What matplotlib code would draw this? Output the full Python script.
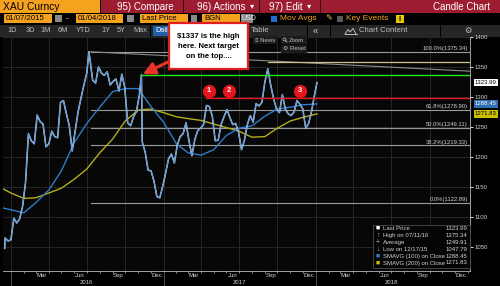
import matplotlib
matplotlib.use('Agg')
import matplotlib.pyplot as plt
import matplotlib.dates as mdates
import matplotlib.transforms as mtrans
from matplotlib.patches import Rectangle, Circle
import pandas as pd

plt.rcParams['font.family'] = ['Liberation Sans', 'DejaVu Sans']

# ---- data ----
week_start = '2015-12-18'          # weekly closes, Fridays
weekly_close = [
    1065, 1060, 1062, 1098, 1090, 1097, 1118, 1157, 1239, 1227,
    1222, 1270, 1259, 1255, 1217, 1222, 1243, 1234, 1232, 1291,
    1294, 1272, 1252, 1210, 1243, 1275, 1298, 1320, 1340, 1366,
    1328, 1323, 1350, 1340, 1336, 1342, 1320, 1326, 1330, 1310,
    1338, 1316, 1257, 1252, 1267, 1276, 1303, 1225, 1208, 1178,
    1177, 1160, 1134, 1132, 1151, 1173, 1197, 1205, 1190, 1220,
    1234, 1239, 1257, 1227, 1202, 1229, 1244, 1248, 1254, 1286,
    1284, 1268, 1227, 1228, 1254, 1267, 1279, 1266, 1254, 1256,
    1241, 1212, 1228, 1254, 1269, 1258, 1289, 1285, 1291, 1325,
    1347, 1320, 1297, 1280, 1274, 1304, 1280, 1272, 1269, 1275,
    1294, 1288, 1280, 1248, 1256, 1276, 1303,
]
extra_dates = ['2015-12-17', '2016-07-06', '2016-11-09', '2018-01-04']
extra_prices = [1047.79, 1375.34, 1337.0, 1323.99]

ma_dates = ['2015-12-13', '2016-01-01', '2016-02-01', '2016-03-01', '2016-04-01',
            '2016-05-01', '2016-06-01', '2016-07-01', '2016-08-01', '2016-09-01',
            '2016-10-01', '2016-11-01', '2016-12-01', '2017-01-01', '2017-02-01',
            '2017-03-01', '2017-04-01', '2017-05-01', '2017-06-01', '2017-07-01',
            '2017-08-01', '2017-09-01', '2017-10-01', '2017-11-01', '2017-12-01',
            '2018-01-04']
sma100 = [1115, 1112, 1107, 1124, 1145, 1177, 1224, 1256, 1283, 1309, 1314, 1314,
          1285, 1258, 1222, 1207, 1203, 1212, 1236, 1248, 1252, 1268, 1280, 1283,
          1287, 1288.45]
sma200 = [1147, 1140, 1131, 1132, 1140, 1148, 1163, 1180, 1207, 1230, 1260, 1278,
          1280, 1274, 1267, 1264, 1261, 1255, 1249, 1243, 1233, 1234, 1248, 1260,
          1266, 1271.83]

fib_start = '2016-07-11'
fib_pct = ['100.0%', '61.8%', '50.0%', '38.2%', '0.0%']
fib_values = [1375.34, 1278.90, 1249.11, 1219.33, 1122.89]

target_date, target_level = '2016-11-09', 1337
resist_date, resist_level = '2017-04-12', 1299
sep_high_date, sep_high_level = '2017-09-08', 1358
trend_dates = ['2016-07-11', '2019-01-06']
trend_values = [1375.34, 1343]

touch_dates = ['2017-04-20', '2017-06-07', '2017-11-24']
touch_labels = ['1', '2', '3']
touch_level = 1310

last_price, high_val, avg_val, low_val = 1323.99, 1375.34, 1249.91, 1047.79
y_ticks = [1050, 1100, 1150, 1200, 1250, 1300, 1350, 1400]
x_start, x_end = '2015-12-13', '2019-01-06'
years = [2016, 2017, 2018]
month_names = ['Mar', 'Jun', 'Sep', 'Dec']
month_nums = [3, 6, 9, 12]

price = pd.Series(weekly_close,
                  index=pd.date_range(week_start, periods=len(weekly_close), freq='W-FRI'))
price = pd.concat([price, pd.Series(extra_prices, index=pd.to_datetime(extra_dates))]).sort_index()

ORANGE = '#f5a21f'
RED = '#9d1c2f'
TXT = '#d2d2d2'

fig = plt.figure(figsize=(5, 2.86), dpi=100, facecolor='black')

# ---- screen chrome (pixel coordinates) ----
ui = fig.add_axes([0, 0, 1, 1], zorder=0)
ui.set_xlim(0, 500)
ui.set_ylim(286, 0)
ui.axis('off')


def box(a, x, y, w, h, fc, ec='none', lw=0.6, z=1):
    a.add_patch(Rectangle((x, y), w, h, facecolor=fc, edgecolor=ec, lw=lw, zorder=z))


def txt(a, x, y, s, size=5.5, color='white', ha='left', weight='normal', z=3):
    a.text(x, y, s, fontsize=size, color=color, ha=ha, va='center',
           fontweight=weight, zorder=z)


box(ui, 0, 0, 500, 286, 'black', z=0)
# row 1
box(ui, 0, 0, 100, 12.5, ORANGE)
txt(ui, 3, 6.6, 'XAU Curncy', 7.4, 'black')
box(ui, 101, 0, 399, 12.5, RED)
for sx in [183, 259, 320]:
    box(ui, sx, 0, 1.2, 12.5, '#3a0a10', z=2)
txt(ui, 117, 6.6, '95) Compare', 7)
txt(ui, 197, 6.6, '96) Actions', 7)
txt(ui, 250, 6.6, '▾', 6)
txt(ui, 269, 6.6, '97) Edit', 7)
txt(ui, 307, 6.6, '▾', 6)
txt(ui, 490, 6.6, 'Candle Chart', 7, ha='right')
# row 2
box(ui, 4, 14, 48, 9, ORANGE)
txt(ui, 6, 18.6, '01/07/2015', 5.6, 'black')
box(ui, 55, 15, 7, 7, '#8a8a8a')
txt(ui, 66, 18.4, '-', 5.6)
box(ui, 76, 14, 47, 9, ORANGE)
txt(ui, 78, 18.6, '01/04/2018', 5.6, 'black')
box(ui, 127, 15, 7, 7, '#8a8a8a')
box(ui, 140, 14, 48, 9, ORANGE)
txt(ui, 142, 18.6, 'Last Price', 5.6, 'black')
box(ui, 191, 15, 6, 7, '#8a8a8a')
box(ui, 202, 14, 38, 9, ORANGE)
txt(ui, 204, 18.6, 'BGN', 5.6, 'black')
box(ui, 241, 14, 12, 9, '#8a8a8a')
txt(ui, 242, 18.6, 'USD', 5, '#eeeeee')
box(ui, 271, 15.5, 6, 6, '#1f6fd0')
txt(ui, 280, 18.6, 'Mov Avgs', 6, ORANGE)
txt(ui, 325, 18.6, '✎', 6, '#f0c040')
box(ui, 337, 15.5, 6, 6, '#5a5a5a')
txt(ui, 346, 18.6, 'Key Events', 6, ORANGE)
box(ui, 396, 14.5, 8, 8, '#e8c800')
txt(ui, 400, 18.6, '||', 4.5, 'black', ha='center')
# row 3 tabs
box(ui, 0, 25, 500, 11.5, '#262626')
for label, cx in zip(['1D', '3D', '1M', '6M', 'YTD', '1Y', '5Y', 'Max'],
                     [12, 30, 46, 63, 83, 106, 121, 140]):
    txt(ui, cx, 31, label, 5.3, '#bdbdbd', ha='center')
box(ui, 153, 26, 30, 10, '#1f5fa8')
txt(ui, 155, 31, 'Daily', 5.3, 'white')
txt(ui, 251, 31, 'Table', 5.6, '#bdbdbd')
txt(ui, 315, 31, '«', 7, '#bdbdbd', ha='center')
# small mountain-line icon before "Chart Content"
ui.plot([345, 348, 350, 353, 356], [34, 29.5, 32, 28.5, 34], color='#bdbdbd', lw=0.7, zorder=3)
ui.plot([344.5, 356.5], [34.3, 34.3], color='#bdbdbd', lw=0.7, zorder=3)
txt(ui, 359, 31, 'Chart Content', 5.6, '#bdbdbd')
txt(ui, 468, 31, '⚙', 6, '#bdbdbd', ha='center')
for sx in [150, 307, 330, 440]:
    box(ui, sx, 25, 1, 11.5, 'black', z=2)

# ---- price chart ----
ax = fig.add_axes([3 / 500, 15 / 286, 467 / 500, 234 / 286], zorder=1)
ax.set_facecolor('#070707')
ax.set_xlim(pd.Timestamp(x_start), pd.Timestamp(x_end))
ax.set_ylim(1010, 1400)

for d in pd.date_range('2016-01-01', '2018-10-01', freq='QS'):
    ax.axvline(d, color='#2c2c2c', lw=0.6, zorder=0)
for v in y_ticks:
    ax.axhline(v, color='#2c2c2c', lw=0.6, zorder=0)

ax.plot(pd.to_datetime(ma_dates), sma200, color='#b3ad1c', lw=1.0, zorder=3)
ax.plot(pd.to_datetime(ma_dates), sma100, color='#2f7bc8', lw=1.0, zorder=3)
ax.plot(price.index, price.values, color='#dcdcdc', lw=1.1, zorder=4)
ax.plot(price.index, price.values, color='#3a8ee8', lw=0.6, zorder=5)

right_end = pd.Timestamp(x_end)
for pct, v in zip(fib_pct, fib_values):
    ax.plot([pd.Timestamp(fib_start), right_end], [v, v], color='#9a9a9a', lw=0.8, zorder=2)
    ax.annotate(f'{pct}({v:.2f})', xy=(1, v), xycoords=('axes fraction', 'data'),
                xytext=(-1.5, 0.6), textcoords='offset points', ha='right', va='bottom',
                fontsize=4.2, color=TXT)
ax.plot(pd.to_datetime(trend_dates), trend_values, color='#8c8c8c', lw=0.8, zorder=2)
ax.plot([pd.Timestamp(sep_high_date), right_end], [sep_high_level] * 2,
        color='#c9c38a', lw=0.9, zorder=2)
ax.plot([pd.Timestamp(target_date), right_end], [target_level] * 2,
        color='#22e81e', lw=1.0, zorder=6)
ax.plot([pd.Timestamp(target_date)] * 2, [target_level, 1300], color='#bbbbbb', lw=0.7, zorder=4)
ax.plot([pd.Timestamp(resist_date), right_end], [resist_level] * 2,
        color='#e8141c', lw=1.0, zorder=6)

for d, lab in zip(touch_dates, touch_labels):
    ax.plot(pd.Timestamp(d), touch_level, 'o', ms=8.5, color='#e8141c', zorder=7)
    ax.text(pd.Timestamp(d), touch_level, lab, fontsize=5.5, color='white',
            fontweight='bold', ha='center', va='center', zorder=8)

ax.annotate('', xy=(pd.Timestamp(target_date), target_level), xycoords='data',
            xytext=(170, 286 - 61), textcoords='figure pixels',
            arrowprops=dict(arrowstyle='-|>,head_width=0.45,head_length=0.9',
                            color='#e8332a', lw=2.2, mutation_scale=8,
                            shrinkA=0, shrinkB=1), zorder=9)

# right axis
ax.yaxis.tick_right()
ax.set_yticks(y_ticks)
ax.set_yticklabels([str(v) for v in y_ticks])
ax.tick_params(axis='y', colors='white', labelcolor=TXT, labelsize=4.3,
               length=2, width=0.6, pad=1.5)
for side in ['top', 'left']:
    ax.spines[side].set_visible(False)
ax.spines['right'].set_color('#b8b8b8')
ax.spines['bottom'].set_color('#b8b8b8')
ax.spines['right'].set_linewidth(0.6)
ax.spines['bottom'].set_linewidth(0.6)

tick_dates = [pd.Timestamp(year=y, month=m, day=15) for y in years for m in month_nums]
ax.set_xticks(tick_dates)
ax.set_xticklabels([m for y in years for m in month_names])
ax.xaxis.set_minor_locator(mdates.MonthLocator())
ax.tick_params(axis='x', which='major', length=0, labelsize=4.3, labelcolor=TXT, pad=1.5)
ax.tick_params(axis='x', which='minor', length=1.5, width=0.5, color='#b8b8b8')

blend = mtrans.blended_transform_factory(ax.transData, ax.transAxes)
for y in years:
    ax.text(pd.Timestamp(year=y, month=7, day=1), -0.05, str(y), transform=blend,
            fontsize=4.3, color=TXT, ha='center', va='center')
    ax.plot([pd.Timestamp(year=y, month=1, day=1)] * 2, [0, -0.07], transform=blend,
            color='#555555', lw=0.6, clip_on=False)

tag_style = [(last_price, 'white', 'black'), (sma100[-1], '#2f6fb5', 'white'),
             (sma200[-1], '#c8c000', 'black')]
for v, fc, tc in tag_style:
    ax.annotate(f'{v:.2f}', xy=(1, v), xycoords=('axes fraction', 'data'),
                xytext=(3.5, 0), textcoords='offset points', ha='left', va='center',
                fontsize=4.3, color=tc, annotation_clip=False,
                bbox=dict(boxstyle='square,pad=0.2', fc=fc, ec='none'))

# ---- overlays on top of the chart ----
top = fig.add_axes([0, 0, 1, 1], zorder=3)
top.set_xlim(0, 500)
top.set_ylim(286, 0)
top.axis('off')

box(top, 253, 36, 25, 8, '#1c1c1c')
txt(top, 255, 40, '≡ News', 4.3, '#bdbdbd')
box(top, 281, 36, 26, 8, '#1c1c1c')
# magnifier icon drawn as a shape
top.add_patch(Circle((284.5, 39.5), 1.5, facecolor='none', edgecolor='#bdbdbd', lw=0.5, zorder=3))
top.plot([285.6, 287], [40.6, 42], color='#bdbdbd', lw=0.6, zorder=3)
txt(top, 289, 40, 'Zoom', 4.3, '#bdbdbd')
box(top, 281, 45, 26, 8, '#1c1c1c')
txt(top, 283, 49, '⚙ Reset', 4.3, '#bdbdbd')

box(top, 169, 23, 79, 46, 'white', ec='#e02020', lw=1.6, z=4)
for yy, line in zip([36, 46.5, 57], ['$1337 is the high', 'here. Next target', 'on the top....']):
    txt(top, 208.5, yy, line, 5.6, 'black', ha='center', weight='bold', z=5)

box(top, 372.5, 224.5, 97, 43, '#050505', ec='#4a4a4a', lw=0.6)
legend_rows = [('■', 'white', 'Last Price', last_price),
               ('↑', '#bbbbbb', 'High on 07/11/16', high_val),
               ('+', '#bbbbbb', 'Average', avg_val),
               ('↓', '#bbbbbb', 'Low on 12/17/15', low_val),
               ('■', '#2f7bc8', 'SMAVG (100) on Close', sma100[-1]),
               ('■', '#c8c000', 'SMAVG (200) on Close', sma200[-1])]
for i, (sym, col, name, val) in enumerate(legend_rows):
    yy = 228.5 + i * 6.9
    txt(top, 378, yy, sym, 5, col, ha='center')
    txt(top, 383, yy, name, 4.3, TXT)
    txt(top, 467, yy, f'{val:.2f}', 4.3, TXT, ha='right')

fig.savefig('out.png', dpi=100, facecolor='black')
